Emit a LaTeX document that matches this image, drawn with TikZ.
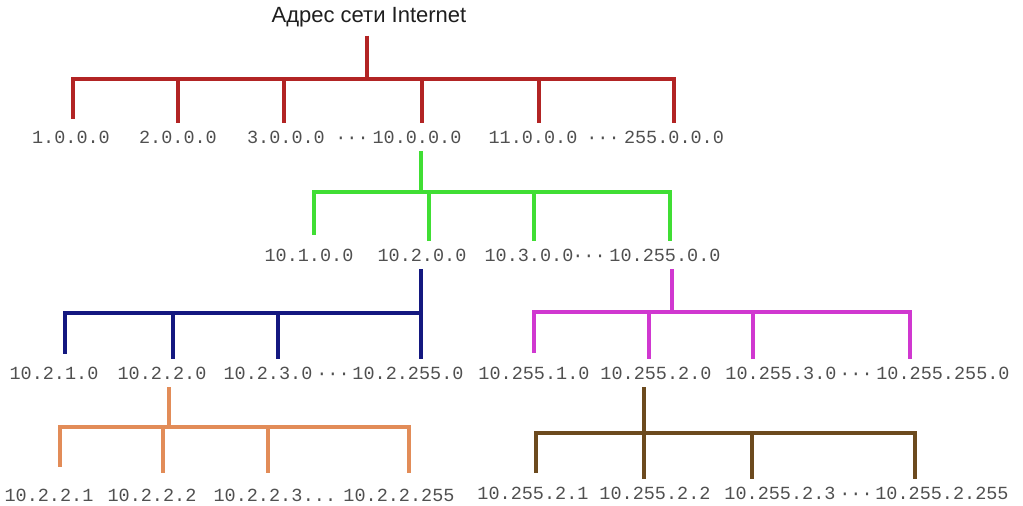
\documentclass[tikz,border=0pt]{standalone}
\usepackage{fontspec}
\newfontfamily\ipfont{Liberation Mono}
\newfontfamily\headfont{Liberation Sans}
\definecolor{netred}{RGB}{178,36,36}
\definecolor{netgreen}{RGB}{64,222,52}
\definecolor{netblue}{RGB}{20,24,128}
\definecolor{netpink}{RGB}{208,56,208}
\definecolor{netorange}{RGB}{226,140,88}
\definecolor{netbrown}{RGB}{108,74,30}
\definecolor{ipgray}{RGB}{80,80,80}
\definecolor{headgray}{RGB}{30,30,30}
\tikzset{
  ip/.style={font=\ipfont\fontsize{18.5}{20}\selectfont, text=ipgray, inner sep=0pt, outer ysep=8pt},
  head/.style={font=\headfont\fontsize{22}{24}\selectfont, text=headgray, inner sep=0pt, outer ysep=8pt},
  wire/.style={line width=3.6pt},
}
\begin{document}
\begin{tikzpicture}
				\useasboundingbox (0,0) rectangle (1023pt,506pt);
				\node[head, anchor=base] (net) at (369pt,483pt) {Адрес сети Internet};
				\node[ip] (a1) at (71pt,369pt) {1.0.0.0};
				\node[ip] (a2) at (178pt,369pt) {2.0.0.0};
				\node[ip] (a3) at (286pt,369pt) {3.0.0.0};
				\node[ip, anchor=base] (ad1) at ([xshift=66pt]a3.base) {···};
				\node[ip] (a10) at (417pt,369pt) {10.0.0.0};
				\node[ip] (a11) at (533pt,369pt) {11.0.0.0};
				\node[ip, anchor=base] (ad2) at ([xshift=70pt]a11.base) {···};
				\node[ip] (a255) at (674pt,369pt) {255.0.0.0};
				\node[ip] (b1) at (309pt,251pt) {10.1.0.0};
				\node[ip] (b2) at (422pt,251pt) {10.2.0.0};
				\node[ip] (b3) at (529pt,251pt) {10.3.0.0};
				\node[ip, anchor=base] (bd) at ([xshift=60pt]b3.base) {···};
				\node[ip] (b255) at (665pt,251pt) {10.255.0.0};
				\node[ip] (c1) at (54pt,133pt) {10.2.1.0};
				\node[ip] (c2) at (162pt,133pt) {10.2.2.0};
				\node[ip] (c3) at (268pt,133pt) {10.2.3.0};
				\node[ip, anchor=base] (cd) at ([xshift=65pt]c3.base) {···};
				\node[ip] (c255) at (408pt,133pt) {10.2.255.0};
				\node[ip] (m1) at (534pt,133pt) {10.255.1.0};
				\node[ip] (m2) at (656pt,133pt) {10.255.2.0};
				\node[ip] (m3) at (781pt,133pt) {10.255.3.0};
				\node[ip, anchor=base] (md) at ([xshift=75pt]m3.base) {···};
				\node[ip] (m255) at (943pt,133pt) {10.255.255.0};
				\node[ip, outer ysep=16pt] (o1) at (49pt,11pt) {10.2.2.1};
				\node[ip, outer ysep=16pt] (o2) at (152pt,11pt) {10.2.2.2};
				\node[ip, outer ysep=16pt] (o3) at (258pt,11pt) {10.2.2.3};
				\node[ip, anchor=base west] (od) at (o3.base east) {...};
				\node[ip, outer ysep=16pt] (o255) at (399pt,11pt) {10.2.2.255};
				\node[ip] (n1) at (533pt,13pt) {10.255.2.1};
				\node[ip] (n2) at (655pt,13pt) {10.255.2.2};
				\node[ip] (n3) at (780pt,13pt) {10.255.2.3};
				\node[ip, anchor=base] (nd) at ([xshift=76pt]n3.base) {···};
				\node[ip] (n255) at (942pt,13pt) {10.255.2.255};
				\coordinate (rbus) at (367pt,427pt);
				\coordinate (gbus) at (421pt,314pt);
				\coordinate (bbus) at (421pt,193pt);
				\coordinate (mbus) at (672pt,194pt);
				\coordinate (obus) at (169pt,79pt);
				\foreach \n/\x in {1/73,2/178,3/284,10/422,11/539,255/674} \coordinate (r\n) at (\x pt,427pt);
				\foreach \n/\x in {1/314,2/429,3/534,255/670} \coordinate (g\n) at (\x pt,314pt);
				\foreach \n/\x in {1/65,2/173,3/278,255/421} \coordinate (u\n) at (\x pt,193pt);
				\foreach \n/\x in {1/534,2/649,3/753,255/910} \coordinate (p\n) at (\x pt,194pt);
				\foreach \n/\x in {1/60,2/163,3/268,255/409} \coordinate (q\n) at (\x pt,79pt);
				\foreach \n/\x in {1/536,2/644,3/752,255/915} \coordinate (w\n) at (\x pt,73pt);
				\draw[wire,netred] (net.south -| rbus) -- (rbus);
				\draw[wire,netred,shorten <=4pt] (a1.north -| r1) -- (r1) -- (r255) -- (a255.north -| r255);
				\foreach \n in {2,3,10,11} \draw[wire,netred] (r\n) -- (a\n.north -| r\n);
				\draw[wire,netgreen] (a10.south -| gbus) -- (gbus);
				\draw[wire,netgreen,shorten <=6pt] (b1.north -| g1) -- (g1) -- (g255) -- (b255.north -| g255);
				\foreach \n in {2,3} \draw[wire,netgreen] (g\n) -- (b\n.north -| g\n);
				\draw[wire,netblue] (b2.south -| bbus) -- (bbus);
				\draw[wire,netblue,shorten <=5pt] (c1.north -| u1) -- (u1) -- (u255) -- (c255.north -| u255);
				\foreach \n in {2,3} \draw[wire,netblue] (u\n) -- (c\n.north -| u\n);
				\draw[wire,netpink] (b255.south -| mbus) -- (mbus);
				\draw[wire,netpink,shorten <=6pt] (m1.north -| p1) -- (p1) -- (p255) -- (m255.north -| p255);
				\foreach \n in {2,3} \draw[wire,netpink] (p\n) -- (m\n.north -| p\n);
				\draw[wire,netorange] (c2.south -| obus) -- (obus);
				\draw[wire,netorange,shorten <=6pt] (o1.north -| q1) -- (q1) -- (q255) -- (o255.north -| q255);
				\foreach \n in {2,3} \draw[wire,netorange] (q\n) -- (o\n.north -| q\n);
				\draw[wire,netbrown,shorten <=6pt] (n1.north -| w1) -- (w1) -- (w255) -- (n255.north -| w255);
				\draw[wire,netbrown] (m2.south -| w2) -- (n2.north -| w2);
				\draw[wire,netbrown] (w3) -- (n3.north -| w3);
			\end{tikzpicture}
\end{document}
